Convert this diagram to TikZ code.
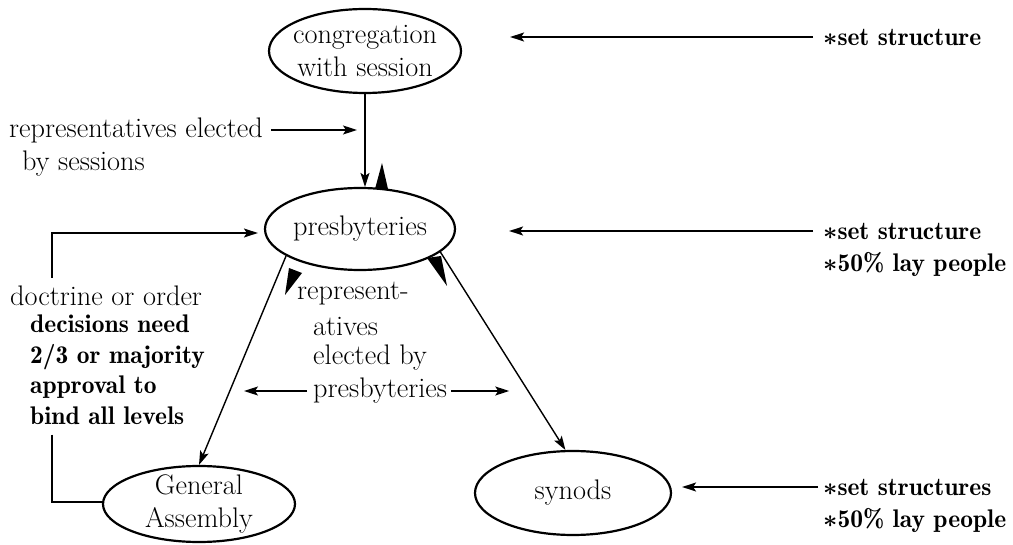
\documentclass[tikz,border=0pt]{standalone}
\usepackage{fontspec}
\usetikzlibrary{shapes.geometric,arrows.meta}
\newfontfamily\darkfont{lmromandemi10-regular.otf}
\begin{document}
\begin{tikzpicture}[x=1pt,y=-1pt,
  txt/.style={font=\fontsize{28.3}{31}\selectfont, inner sep=0pt},
  dk/.style={font=\fontsize{25.5}{30.5}\selectfont\darkfont\boldmath, inner sep=0pt},
  ell/.style={draw, ellipse, line width=2.2pt, inner sep=-6pt, align=center, font=\fontsize{28.3}{33}\selectfont},
  arr/.style={line width=1.4pt, -{Stealth[length=14pt,width=9pt,inset=3pt]}},
  ln/.style={line width=1.4pt}]
\useasboundingbox (0,0) rectangle (1013,545);

% nodes
\node[ell, minimum width=192pt, minimum height=84pt] (cong) at (365,51) {congregation\\with session};
\node[ell, minimum width=190pt, minimum height=82pt] (presb) at (360,229) {presbyteries};
\node[ell, minimum width=192pt, minimum height=76pt] (ga) at (199,504) {General\\Assembly};
\node[ell, minimum width=196pt, minimum height=84pt] (syn) at (573,493) {synods};

\node[txt, anchor=west] (re) at (9,130) {representatives elected};
\node[txt, anchor=west] (bs) at (22,164) {by sessions};
\node[txt, anchor=west] (doc) at (10,296) {doctrine or order};
\node[dk, anchor=north west, align=left] (dec) at (30,315) {decisions need\\2/3 or majority\\approval to\\bind all levels};

\node[txt, anchor=west] (m1) at (297,294) {represent-};
\node[txt, anchor=west] (m2) at (313,326) {atives};
\node[txt, anchor=west] (m3) at (313,358) {elected by};
\node[txt, anchor=west] (m4) at (313,391) {presbyteries};

\node[dk, anchor=west] (r1) at (823,37) {$\ast$set structure};
\node[dk, anchor=west] (r2) at (823,231) {$\ast$set structure};
\node[dk, anchor=west] (r2b) at (823,264) {$\ast$50\% lay people};
\node[dk, anchor=west] (r3) at (823,487) {$\ast$set structures};
\node[dk, anchor=west] (r3b) at (823,520) {$\ast$50\% lay people};

% connectors
\draw[arr] (cong.south) -- (cong.south |- presb.north);
\draw[arr, shorten <=8pt, shorten >=8pt] (re.east) -- (re.east -| cong.south);
\draw[arr] (presb.200) -- (ga.north);
\draw[arr] (presb.344) -- (syn.100);

\draw[arr, shorten <=6pt] (m4.west) -- ++(-69,0);
\draw[arr, shorten <=4pt] (m4.east) -- ++(62,0);

\coordinate (lt) at (52,233);
\draw[arr, shorten <=8pt, shorten >=6pt] (doc.north -| lt) -- (lt) -- (lt -| presb.west);
\coordinate (lb) at (52,502);
\draw[ln, shorten <=10pt] (dec.south -| lb) -- (lb) -- (lb -| ga.west);

\draw[arr, shorten <=10pt, shorten >=48pt] (r1.west) -- (cong.east |- r1.west);
\draw[arr, shorten <=10pt, shorten >=53pt] (r2.west) -- (presb.east |- r2.west);
\draw[arr, shorten <=5pt, shorten >=10pt] (r3.west) -- (syn.east |- r3.west);

% wedge marks
\fill (382,163) -- (388,189) -- (375,189) -- cycle;
\fill (285,295) -- (289,268) -- (302,273) -- cycle;
\fill (447,286) -- (427,258) -- (441,256) -- cycle;
\end{tikzpicture}
\end{document}
